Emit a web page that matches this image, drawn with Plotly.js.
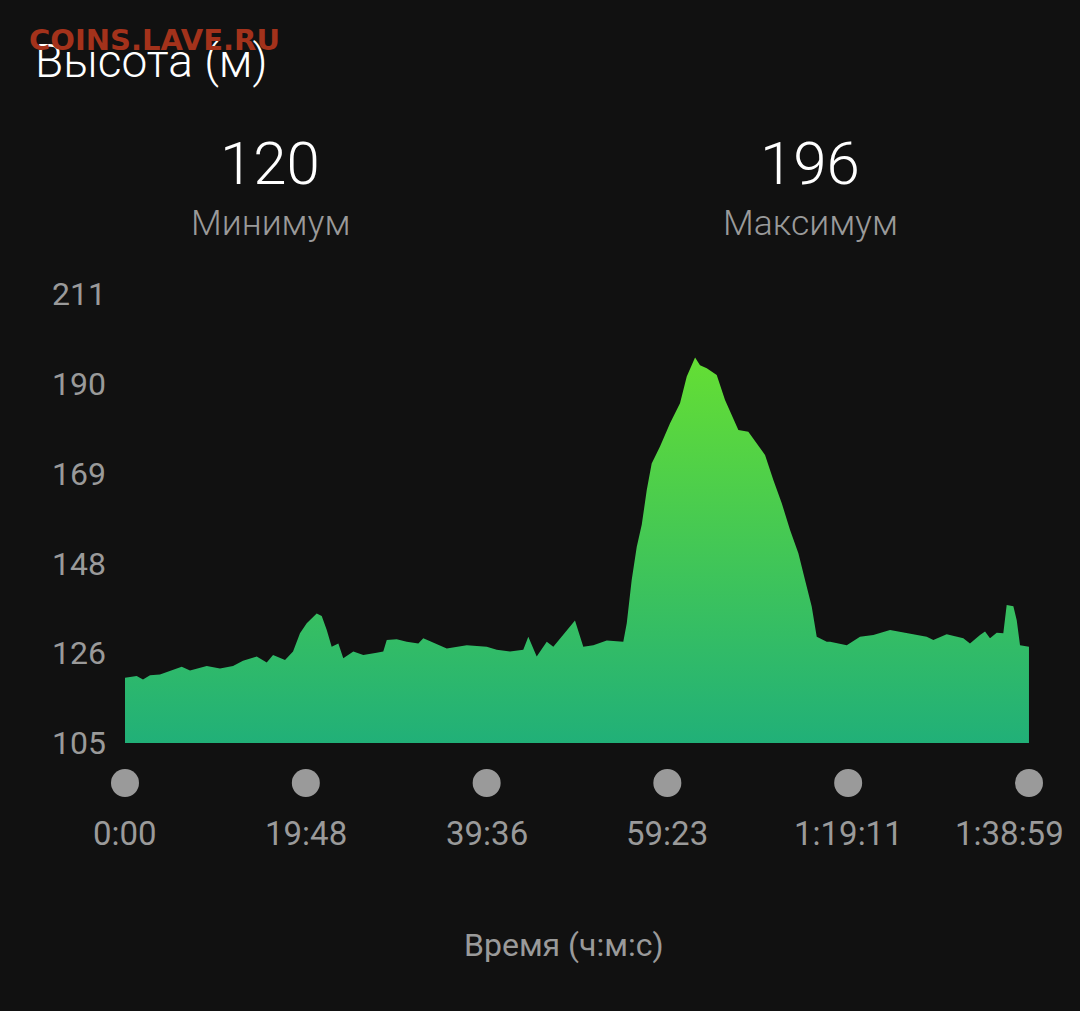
<!DOCTYPE html>
<html>
<head>
<meta charset="utf-8">
<script src="https://cdn.plot.ly/plotly-3.0.1.min.js"></script>
<style>
html,body{margin:0;padding:0;background:#111111;}
#chart{width:1080px;height:1011px;}
</style>
</head>
<body>
<div id="chart"></div>
<script>
// elapsed time in minutes
const timeMin = [0.00,1.28,1.97,2.74,3.83,4.93,6.21,7.12,8.95,10.40,11.83,12.92,14.42,15.52,16.21,17.52,18.40,19.16,19.90,20.99,21.54,22.09,22.63,23.36,23.90,25.00,26.09,27.56,28.28,28.66,29.75,30.85,32.12,32.66,35.23,37.42,39.61,40.70,42.16,43.61,44.16,45.08,46.18,46.90,47.99,49.27,50.18,51.28,52.75,54.56,54.94,55.48,56.03,56.58,57.13,57.67,58.58,59.68,60.77,61.51,62.42,62.96,63.70,64.79,65.70,66.61,67.16,68.25,69.17,70.08,70.99,71.91,72.82,73.73,74.46,75.19,75.74,76.84,77.20,79.03,80.48,81.94,83.77,85.59,87.78,88.51,89.97,91.79,92.52,93.62,94.17,94.71,95.45,96.17,96.54,97.27,97.64,98.00,98.91,98.98];
// elevation in metres
const elevation = [120.4,120.8,120.0,121.0,121.2,122.1,123.0,122.1,123.2,122.6,123.2,124.4,125.4,124.0,125.8,124.6,126.6,130.9,133.3,135.6,135.0,131.7,127.7,128.5,125.0,126.6,125.8,126.3,126.6,129.3,129.5,128.9,128.5,129.7,127.3,128.1,127.7,127.0,126.6,127.0,130.1,125.4,128.9,127.7,130.5,133.9,127.7,128.1,129.2,128.9,133.3,143.5,151.3,156.5,164.7,171.0,175.0,180.5,185.2,191.5,196.0,194.2,193.5,191.9,186.0,181.3,178.9,178.5,175.7,173.0,167.1,161.6,155.3,149.8,143.5,137.2,130.1,128.9,128.9,128.1,130.1,130.5,131.7,131.0,130.1,129.3,130.7,129.7,128.5,130.5,131.3,129.7,131.0,130.9,137.6,137.3,134.0,128.1,127.7,127.7];

const xTickVals = [0, 19.8, 39.6, 59.383, 79.183, 98.983];
const xTickText = ["0:00","19:48","39:36","59:23","1:19:11","1:38:59"];
const yTickVals = [105, 126.2, 147.4, 168.6, 189.8, 211];
const yTickText = ["105","126","148","169","190","211"];

const minValue = "120";
const maxValue = "196";
const minLabel = "Минимум";
const maxLabel = "Максимум";
const chartTitle = "Высота (м)";
const xTitle = "Время (ч:м:с)";
const watermark = "COINS.LAVE.RU";

const grey = "#9a9a9a";
const font = "Roboto, 'Noto Sans', sans-serif";
const xMax = xTickVals[xTickVals.length - 1];

const trace = {
  x: timeMin,
  y: elevation,
  type: "scatter",
  mode: "lines",
  line: {width: 0, color: "#2fbc68"},
  fill: "tozeroy",
  fillgradient: {
    type: "vertical",
    start: 105,
    stop: 196,
    colorscale: [[0, "#21b078"], [1, "#64de34"]]
  },
  hoverinfo: "skip"
};

const dots = xTickVals.map(v => ({
  type: "circle",
  xref: "paper", yref: "paper",
  xsizemode: "pixel", ysizemode: "pixel",
  xanchor: v / xMax, yanchor: -40/449,
  x0: -14, x1: 14, y0: -14, y1: 14,
  fillcolor: grey, line: {width: 0}
}));

const tickLabels = xTickVals.map((v, i) => {
  const last = i === xTickVals.length - 1;
  return {
    text: xTickText[i], xref: "x", yref: "paper",
    x: v, y: -90/449,
    xanchor: last ? "right" : "center", xshift: last ? 37 : 0,
    yanchor: "middle", showarrow: false,
    font: {family: font, size: 33, color: grey}
  };
});

const layout = {
  width: 1080, height: 1011,
  paper_bgcolor: "#111111",
  plot_bgcolor: "#111111",
  margin: {l: 125, r: 51, t: 294, b: 268},
  showlegend: false,
  font: {family: font, color: grey},
  title: {
    text: chartTitle,
    x: 35/1080, xanchor: "left", xref: "container",
    y: 1 - 61/1011, yanchor: "middle", yref: "container",
    font: {family: font, size: 46, color: "#ffffff", weight: 300}
  },
  xaxis: {
    range: [0, xMax],
    showticklabels: false,
    showgrid: false, zeroline: false, showline: false,
    ticks: "",
    fixedrange: true
  },
  yaxis: {
    range: [105, 211],
    tickvals: yTickVals, ticktext: yTickText,
    showgrid: false, zeroline: false, showline: false,
    ticks: "", ticklabelstandoff: 18,
    tickfont: {family: font, size: 32, color: grey},
    fixedrange: true
  },
  shapes: dots,
  annotations: tickLabels.concat([
    {text: watermark, xref: "paper", yref: "paper", x: -98/904, y: 703/449, xanchor: "left", yanchor: "middle", showarrow: false, font: {family: "'DejaVu Sans', sans-serif", size: 29, color: "#a3321b", weight: 700}},
    {text: minValue, xref: "paper", yref: "paper", x: 145/904, y: 580/449, xanchor: "center", yanchor: "middle", showarrow: false, font: {family: font, size: 60, color: "#ffffff", weight: 300}},
    {text: maxValue, xref: "paper", yref: "paper", x: 685/904, y: 580/449, xanchor: "center", yanchor: "middle", showarrow: false, font: {family: font, size: 60, color: "#ffffff", weight: 300}},
    {text: minLabel, xref: "paper", yref: "paper", x: 145/904, y: 520/449, xanchor: "center", yanchor: "middle", showarrow: false, font: {family: font, size: 35.5, color: grey, weight: 300}},
    {text: maxLabel, xref: "paper", yref: "paper", x: 685/904, y: 520/449, xanchor: "center", yanchor: "middle", showarrow: false, font: {family: font, size: 35.5, color: grey, weight: 300}},
    {text: xTitle, xref: "paper", yref: "paper", x: 439/904, y: -202/449, xanchor: "center", yanchor: "middle", showarrow: false, font: {family: font, size: 32, color: grey}}
  ])
};

Plotly.newPlot("chart", [trace], layout, {displayModeBar: false, staticPlot: true});
</script>
</body>
</html>
